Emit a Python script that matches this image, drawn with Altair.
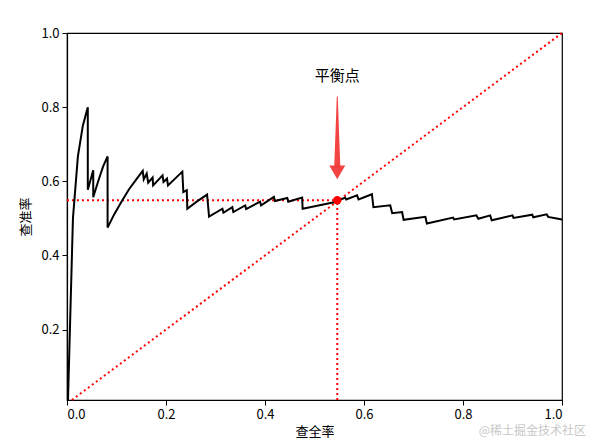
import altair as alt
import pandas as pd

# PR curve (recall, precision)
recall = [0.002, 0.012, 0.022, 0.032, 0.042, 0.042, 0.053, 0.053, 0.063, 0.073, 0.082, 0.082,
          0.095, 0.110, 0.125, 0.140, 0.153, 0.155, 0.161, 0.164, 0.173, 0.174, 0.193, 0.195,
          0.202, 0.204, 0.233, 0.235, 0.242, 0.243, 0.262, 0.283, 0.287, 0.314, 0.316, 0.334,
          0.336, 0.360, 0.362, 0.390, 0.392, 0.418, 0.420, 0.445, 0.447, 0.475, 0.476, 0.542,
          0.562, 0.564, 0.586, 0.589, 0.616, 0.619, 0.653, 0.657, 0.677, 0.680, 0.724, 0.727,
          0.780, 0.782, 0.827, 0.831, 0.855, 0.858, 0.900, 0.902, 0.940, 0.942, 0.969, 0.972,
          0.992, 1.000]
precision = [0.010, 0.500, 0.667, 0.750, 0.800, 0.577, 0.630, 0.557, 0.600, 0.640, 0.667, 0.475,
             0.510, 0.545, 0.578, 0.605, 0.628, 0.605, 0.621, 0.596, 0.610, 0.589, 0.616, 0.598,
             0.607, 0.589, 0.626, 0.571, 0.576, 0.526, 0.545, 0.564, 0.505, 0.526, 0.515, 0.530,
             0.517, 0.535, 0.525, 0.545, 0.535, 0.558, 0.547, 0.555, 0.545, 0.556, 0.526, 0.544,
             0.556, 0.551, 0.562, 0.551, 0.565, 0.530, 0.535, 0.514, 0.517, 0.496, 0.504, 0.486,
             0.502, 0.497, 0.508, 0.499, 0.508, 0.495, 0.508, 0.501, 0.510, 0.503, 0.511, 0.504,
             0.499, 0.497]

balance_x = [0.546]
balance_y = [0.549]

x_ticks = [0.0, 0.2, 0.4, 0.6, 0.8, 1.0]
y_ticks = [0.2, 0.4, 0.6, 0.8, 1.0]

x_title = "查全率"
y_title = "查准率"
annot_text = "平衡点"
watermark = "@稀土掘金技术社区"

FONT = "Noto Sans CJK SC"

curve_df = pd.DataFrame({"r": recall, "p": precision, "i": list(range(len(recall)))})

xs = alt.Scale(domain=[0, 1], nice=False, zero=False)
ys = alt.Scale(domain=[0.01, 1.0], nice=False, zero=False)

xax = alt.Axis(values=x_ticks, format=".1f", title=x_title, grid=False)
yax = alt.Axis(values=y_ticks, format=".1f", title=y_title, grid=False)

curve = alt.Chart(curve_df).mark_line(color="black", strokeWidth=2).encode(
    x=alt.X("r:Q", scale=xs, axis=xax),
    y=alt.Y("p:Q", scale=ys, axis=yax),
    order="i:Q",
)

bx, by = balance_x[0], balance_y[0]

hline = alt.Chart(pd.DataFrame({"x": [0.0], "x2": [bx], "y": [by]})).mark_rule(
    color="red", strokeWidth=2, strokeDash=[2, 3]
).encode(x=alt.X("x:Q", scale=xs), x2="x2:Q", y=alt.Y("y:Q", scale=ys))

vline = alt.Chart(pd.DataFrame({"x": [bx], "y": [0.01], "y2": [by]})).mark_rule(
    color="red", strokeWidth=2, strokeDash=[2, 3]
).encode(x=alt.X("x:Q", scale=xs), y=alt.Y("y:Q", scale=ys), y2="y2:Q")

diag = alt.Chart(pd.DataFrame({"x": [0.01, 1.0], "y": [0.01, 1.0]})).mark_line(
    color="red", strokeWidth=2, strokeDash=[2, 3]
).encode(x=alt.X("x:Q", scale=xs), y=alt.Y("y:Q", scale=ys))

dot = alt.Chart(pd.DataFrame({"x": balance_x, "y": balance_y})).mark_circle(
    color="red", size=70, opacity=1
).encode(x=alt.X("x:Q", scale=xs), y=alt.Y("y:Q", scale=ys))

shaft = alt.Chart(pd.DataFrame({"x": [bx, bx], "y": [0.828, 0.642], "w": [1.0, 6.0]})).mark_trail(
    color="#f23a3a", opacity=0.95
).encode(
    x=alt.X("x:Q", scale=xs), y=alt.Y("y:Q", scale=ys),
    size=alt.Size("w:Q", scale=None, legend=None),
)

head = alt.Chart(pd.DataFrame({"x": [bx], "y": [0.624]})).mark_point(
    shape="triangle-down", filled=True, color="#f23a3a", size=256, opacity=0.95
).encode(x=alt.X("x:Q", scale=xs), y=alt.Y("y:Q", scale=ys))

label = alt.Chart(pd.DataFrame({"x": [bx], "y": [0.885], "t": [annot_text]})).mark_text(
    font=FONT, fontSize=15, color="black", align="center", baseline="middle"
).encode(x=alt.X("x:Q", scale=xs), y=alt.Y("y:Q", scale=ys), text="t:N")

wm = alt.Chart(pd.DataFrame({"t": [watermark]})).mark_text(
    font=FONT, fontSize=12, color="#c8c8c8", align="right", baseline="middle"
).encode(x=alt.value(519), y=alt.value(398), text="t:N")

chart = alt.layer(diag, hline, vline, curve, dot, shaft, head, label, wm).properties(
    width=495, height=367,
    autosize=alt.AutoSizeParams(type="none"),
    padding={"left": 59, "top": 25, "right": 26, "bottom": 40},
).configure_view(
    stroke="black", strokeWidth=1.2
).configure_axis(
    labelFont=FONT, titleFont=FONT, labelFontSize=13, titleFontSize=13,
    titleFontWeight="normal", labelColor="black", titleColor="black",
    domainColor="black", tickColor="black", tickSize=5, domainWidth=1.2,
    labelPadding=3,
).configure_axisX(titlePadding=4).configure_axisY(titlePadding=8)

chart.save("out.html", embed_options={"renderer": "svg", "actions": False})
